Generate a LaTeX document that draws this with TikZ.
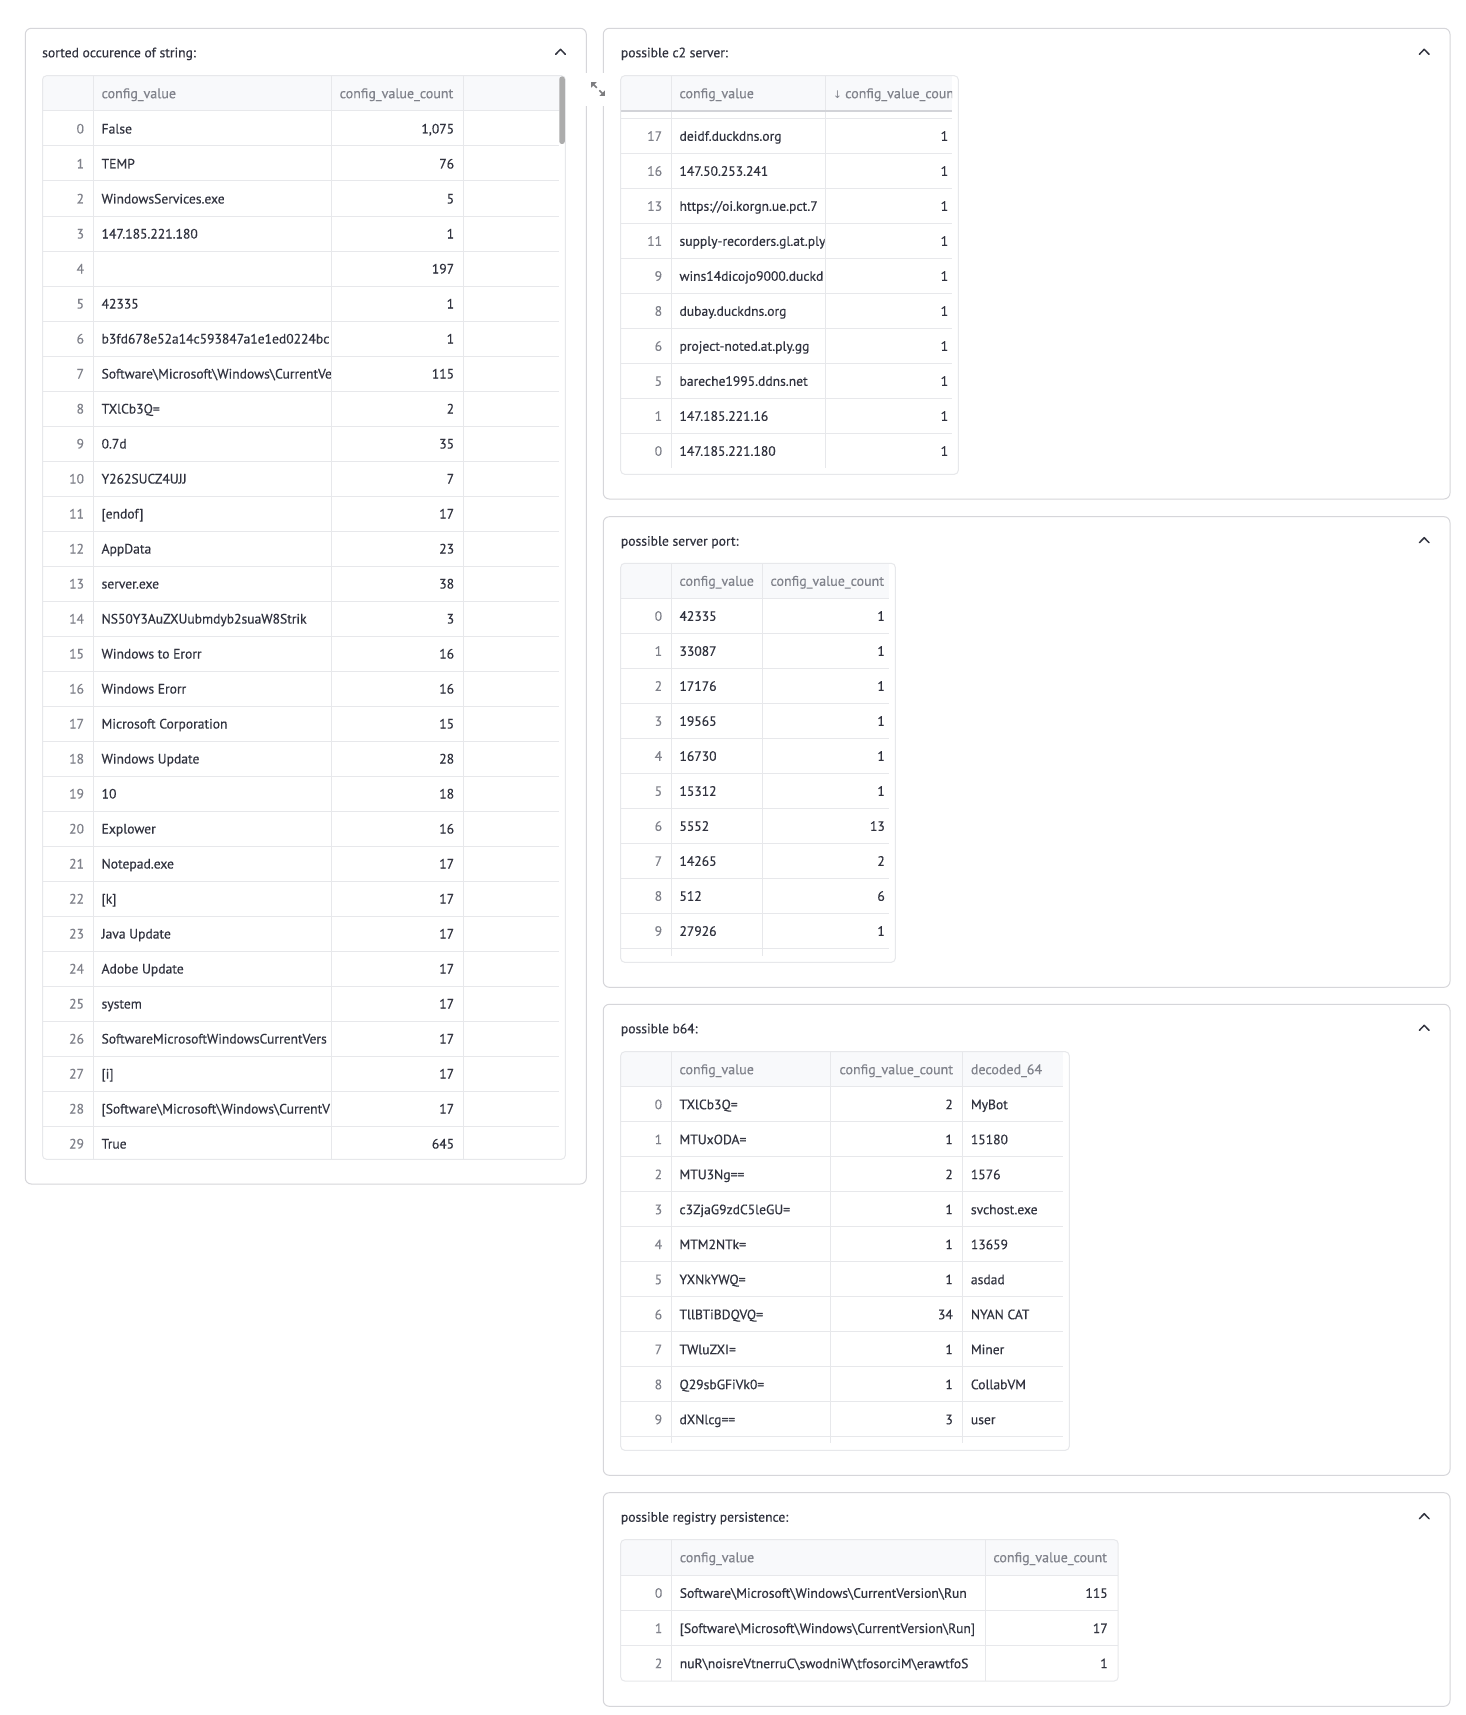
\documentclass[tikz,border=0pt]{standalone}
\usepackage{fontspec}
\usetikzlibrary{calc}
\setmainfont{PT Sans}[FakeBold=0.4]
\newfontfamily\symfont{DejaVu Sans}
\definecolor{txt}{HTML}{31333F}
\definecolor{muted}{RGB}{128,130,139}
\definecolor{pborder}{RGB}{214,214,218}
\definecolor{gridc}{RGB}{231,232,235}
\definecolor{hdr}{HTML}{F8F9FB}
\definecolor{sbar}{RGB}{172,172,172}
\definecolor{iconc}{RGB}{125,125,128}
\definecolor{shadowc}{RGB}{210,211,216}
\newcommand\bsl{\textbackslash}
\newcommand\cellfont{\fontsize{13.6}{16}\selectfont}
\newcommand\hdfont{\fontsize{14}{16}\selectfont}
\newcommand\urlA{https:/\kern0pt/oi.korgn.ue.pct.7}
\begin{document}
\begin{tikzpicture}[x=1pt,y=-1pt,
  panel/.style={draw=pborder,line width=1pt,rounded corners=6pt},
  tframe/.style={draw=gridc,line width=1pt,rounded corners=4pt},
  gline/.style={draw=gridc,line width=1pt},
  cellL/.style={anchor=base west,inner sep=0pt,text=txt,font=\cellfont},
  cellR/.style={anchor=base east,inner sep=0pt,text=txt,font=\cellfont},
  idx/.style={anchor=base east,inner sep=0pt,text=muted,font=\cellfont},
  hd/.style={anchor=base west,inner sep=0pt,text=muted,font=\hdfont},
  ttl/.style={anchor=base west,inner sep=0pt,text=txt,font=\cellfont},
  chev/.style={draw=txt,line width=1.5pt,line cap=round,line join=round},
]
\useasboundingbox[fill=white] (0,0) rectangle (1466,1715);

% ---------------- panels ----------------
\draw[panel] (25.3,28.3) rectangle (586.3,1184);
\draw[panel] (603.3,28.3) rectangle (1450,499);
\draw[panel] (603.3,516.7) rectangle (1450,987.3);
\draw[panel] (603.3,1004.3) rectangle (1450,1475.3);
\draw[panel] (603.3,1492.7) rectangle (1450,1706.3);

\node[ttl] (t1) at (42,57.3) {sorted occurence of string:};
\node[ttl] (t2) at (620.7,57.3) {possible c2 server:};
\node[ttl] (t3) at (620.7,545.7) {possible server port:};
\node[ttl] (t4) at (620.7,1033.3) {possible b64:};
\node[ttl] (t5) at (620.7,1521.7) {possible registry persistence:};

\foreach \cx/\cy in {560.5/51.7,1424.2/51.7,1424.2/540.1,1424.2/1027.7,1424.2/1516.1}
  \draw[chev] (\cx-4.8,\cy+2.6) -- (\cx,\cy-2.4) -- (\cx+4.8,\cy+2.6);

% ---------------- left table ----------------
\begin{scope}
  \clip[rounded corners=4pt] (42.5,75.7) rectangle (565.3,1159.3);
  \fill[hdr] (42.5,75.7) rectangle (565.3,111);
\end{scope}
\foreach \k in {0,...,29} \draw[gline] (42.5,111+35*\k) -- (558.7,111+35*\k);
\foreach \x in {93.4,331.4,463.4} \draw[gline] (\x,75.7) -- (\x,1159.3);
\draw[tframe] (42.5,75.7) rectangle (565.3,1159.3);
\fill[sbar,rounded corners=2.5pt] (559.3,76.5) rectangle (564.8,144);
\node[hd] (Lh1) at (101.4,98.2) {config\_value};
\node[hd] (Lh2) at (339.5,98.2) {config\_value\_count};
\foreach \v/\c [count=\n from 0] in {
  False/{1,075}, TEMP/76, WindowsServices.exe/5, 147.185.221.180/1, {}/197,
  42335/1, b3fd678e52a14c593847a1e1ed0224bc/1,
  Software\bsl Microsoft\bsl Windows\bsl CurrentVe/115,
  TXlCb3Q=/2, 0.7d/35, Y262SUCZ4UJJ/7, [endof]/17, AppData/23, server.exe/38,
  NS50Y3AuZXUubmdyb2suaW8Strik/3, Windows to Erorr/16, Windows Erorr/16,
  Microsoft Corporation/15, Windows Update/28, 10/18, Explower/16,
  Notepad.exe/17, [k]/17, Java Update/17, Adobe Update/17, system/17,
  SoftwareMicrosoftWindowsCurrentVers/17, [i]/17,
  {[Software\bsl Microsoft\bsl Windows\bsl CurrentV}/17, True/645}
{
  \node[idx] (Li\n) at (84.2,133.5+35*\n) {\n};
  \begin{scope}
    \clip (94,111+35*\n) rectangle (330.9,146+35*\n);
    \node[cellL] (Lv\n) at (101.4,133.5+35*\n) {\v};
  \end{scope}
  \node[cellR] (Lc\n) at (454.3,133.5+35*\n) {\c};
}

% ---------------- c2 table ----------------
\begin{scope}
  \clip[rounded corners=4pt] (620.7,75.7) rectangle (958.3,474.3);
  \fill[hdr] (620.7,75.7) rectangle (952,111);
\end{scope}
\foreach \k in {0,...,9} \draw[gline] (620.7,118.3+35*\k) -- (952,118.3+35*\k);
\foreach \x in {671.3,825.3} \draw[gline] (\x,75.7) -- (\x,468.3);
\draw[shadowc,line width=1.6pt] (620.7,111.3) -- (952,111.3);
\draw[tframe] (620.7,75.7) rectangle (958.3,474.3);
\node[hd] (Ch1) at (679.3,98.2) {config\_value};
\begin{scope}
  \clip (826,75.7) rectangle (952,111);
  \node[hd] (Ch0) at (832.8,98.2) {\symfont\fontsize{10.5}{12}\selectfont ↓};
  \node[hd] (Ch2) at (845,98.2) {config\_value\_count};
\end{scope}
\foreach \i/\v [count=\n from 0] in {
  17/deidf.duckdns.org, 16/147.50.253.241, 13/\urlA,
  11/supply-recorders.gl.at.ply, 9/wins14dicojo9000.duckd,
  8/dubay.duckdns.org, 6/project-noted.at.ply.gg, 5/bareche1995.ddns.net,
  1/147.185.221.16, 0/147.185.221.180}
{
  \node[idx] (Ci\n) at (662.3,140.8+35*\n) {\i};
  \begin{scope}
    \clip (672,118.3+35*\n) rectangle (824.6,153.3+35*\n);
    \node[cellL] (Cv\n) at (679.3,140.8+35*\n) {\v};
  \end{scope}
  \node[cellR] (Cc\n) at (948.3,140.8+35*\n) {1};
}

% ---------------- port table ----------------
\begin{scope}
  \clip[rounded corners=4pt] (620.7,563.3) rectangle (895.3,962.3);
  \fill[hdr] (620.7,563.3) rectangle (889,598.3);
\end{scope}
\foreach \k in {0,...,10} \draw[gline] (620.7,598.3+35*\k) -- (889,598.3+35*\k);
\foreach \x in {671.3,762.3} \draw[gline] (\x,563.3) -- (\x,956);
\draw[tframe] (620.7,563.3) rectangle (895.3,962.3);
\node[hd] (Ph1) at (679.3,585.8) {config\_value};
\node[hd] (Ph2) at (770.3,585.8) {config\_value\_count};
\foreach \v/\c [count=\n from 0] in {
  42335/1, 33087/1, 17176/1, 19565/1, 16730/1, 15312/1, 5552/13, 14265/2, 512/6, 27926/1}
{
  \node[idx] (Pi\n) at (662.3,620.8+35*\n) {\n};
  \node[cellL] (Pv\n) at (679.3,620.8+35*\n) {\v};
  \node[cellR] (Pc\n) at (885,620.8+35*\n) {\c};
}

% ---------------- b64 table ----------------
\begin{scope}
  \clip[rounded corners=4pt] (620.7,1051.7) rectangle (1069.3,1450.3);
  \fill[hdr] (620.7,1051.7) rectangle (1062.7,1086.7);
\end{scope}
\foreach \k in {0,...,10} \draw[gline] (620.7,1086.7+35*\k) -- (1062.7,1086.7+35*\k);
\foreach \x in {671.3,830.7,962.7} \draw[gline] (\x,1051.7) -- (\x,1443.3);
\draw[tframe] (620.7,1051.7) rectangle (1069.3,1450.3);
\node[hd] (Bh1) at (679.3,1074.2) {config\_value};
\node[hd] (Bh2) at (839.3,1074.2) {config\_value\_count};
\node[hd] (Bh3) at (970.7,1074.2) {decoded\_64};
\foreach \v/\c/\d [count=\n from 0] in {
  TXlCb3Q=/2/MyBot, MTUxODA=/1/15180, MTU3Ng==/2/1576,
  c3ZjaG9zdC5leGU=/1/svchost.exe, MTM2NTk=/1/13659, YXNkYWQ=/1/asdad,
  TllBTiBDQVQ=/34/NYAN CAT, TWluZXI=/1/Miner, Q29sbGFiVk0=/1/CollabVM,
  dXNlcg==/3/user}
{
  \node[idx] (Bi\n) at (662.3,1109.2+35*\n) {\n};
  \node[cellL] (Bv\n) at (679.3,1109.2+35*\n) {\v};
  \node[cellR] (Bc\n) at (953,1109.2+35*\n) {\c};
  \node[cellL] (Bd\n) at (970.7,1109.2+35*\n) {\d};
}

% ---------------- registry table ----------------
\begin{scope}
  \clip[rounded corners=4pt] (620.7,1539.7) rectangle (1118.2,1681);
  \fill[hdr] (620.7,1539.7) rectangle (1118.2,1575.3);
\end{scope}
\foreach \y in {1575.3,1610.3,1645.3} \draw[gline] (620.7,\y) -- (1118.2,\y);
\foreach \x in {671.4,985.4} \draw[gline] (\x,1539.7) -- (\x,1681);
\draw[tframe] (620.7,1539.7) rectangle (1118.2,1681);
\node[hd] (Rh1) at (679.6,1562.2) {config\_value};
\node[hd] (Rh2) at (993.2,1562.2) {config\_value\_count};
\foreach \v/\c [count=\n from 0] in {
  Software\bsl Microsoft\bsl Windows\bsl CurrentVersion\bsl Run/115,
  {[Software\bsl Microsoft\bsl Windows\bsl CurrentVersion\bsl Run]}/17,
  nuR\bsl noisreVtnerruC\bsl swodniW\bsl tfosorciM\bsl erawtfoS/1}
{
  \node[idx] (Ri\n) at (662.5,1597.8+35.2*\n) {\n};
  \node[cellL] (Rv\n) at (679.6,1597.8+35.2*\n) {\v};
  \node[cellR] (Rc\n) at (1107.9,1597.8+35.2*\n) {\c};
}

% ---------------- expand icon ----------------
\fill[white] (584.5,72.7) rectangle (607,105.7);
\coordinate (e1a) at (596.8,87.8);
\coordinate (e1b) at (591.2,82.2);
\coordinate (e2a) at (599.3,90.3);
\coordinate (e2b) at (604.9,95.9);
\draw[iconc,line width=1.5pt] (e1a) -- ($(e1b)+(1.5,1.5)$);
\fill[iconc] (e1b) -- ++(5.5,0) -- ++(-5.5,5.5) -- cycle;
\draw[iconc,line width=1.5pt] (e2a) -- ($(e2b)+(-1.5,-1.5)$);
\fill[iconc] (e2b) -- ++(-5.5,0) -- ++(5.5,-5.5) -- cycle;
\end{tikzpicture}
\end{document}
